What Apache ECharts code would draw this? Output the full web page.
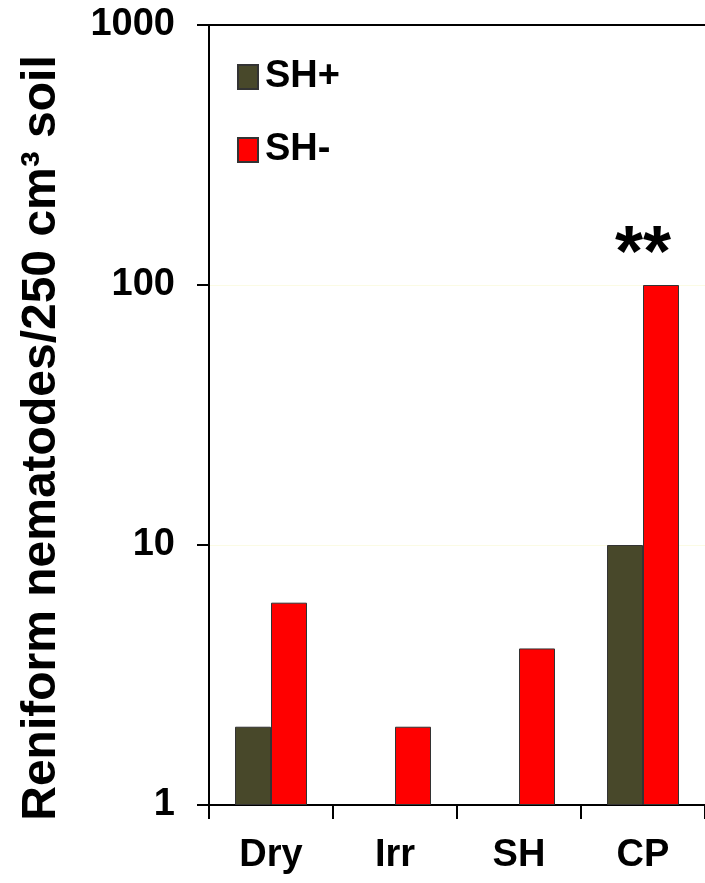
<!DOCTYPE html>
<html>
<head>
<meta charset="utf-8">
<style>
  html, body { margin: 0; padding: 0; background: #fff; }
  #chart { width: 705px; height: 883px; }
</style>
<script src="https://cdn.jsdelivr.net/npm/echarts@6/dist/echarts.min.js"></script>
</head>
<body>
<div id="chart"></div>
<script>
// Reniform nematode counts per treatment, with and without sunn hemp (SH)
const categories = ['Dry', 'Irr', 'SH', 'CP'];
const seriesNames = ['SH+', 'SH-'];
const shPlus = [2, null, null, 10];
const shMinus = [6, 2, 4, 100];
const significance = ['', '', '', '**'];
const yTicks = [1, 10, 100, 1000];

const FONT = '"Liberation Sans Narrow", "Liberation Sans", Arial, sans-serif';
const colors = ['#48482a', '#ff0000'];

const chart = echarts.init(document.getElementById('chart'), null, { renderer: 'canvas' });

chart.setOption({
  animation: false,
  backgroundColor: '#ffffff',
  grid: { left: 209, right: -4, top: 25, bottom: 78, containLabel: false },
  legend: {
    orient: 'vertical',
    left: 232,
    top: 50,
    itemWidth: 20,
    itemHeight: 24,
    itemGap: 29,
    icon: 'rect',
    data: seriesNames,
    textStyle: { fontFamily: FONT, fontWeight: 'bold', fontSize: 38, lineHeight: 44, color: '#000', padding: [0, 0, 0, 2] }
  },
  xAxis: [{
    type: 'category',
    data: categories,
    boundaryGap: true,
    axisLine: { lineStyle: { color: '#000', width: 2 } },
    axisTick: { show: true, length: 14, lineStyle: { color: '#000', width: 2 } },
    axisLabel: { fontFamily: FONT, fontWeight: 'bold', fontSize: 38, color: '#000', margin: 32 }
  }, {
    type: 'category',
    data: categories,
    position: 'top',
    axisLine: { lineStyle: { color: '#000', width: 2 } },
    axisTick: { show: false },
    axisLabel: { show: false }
  }],
  yAxis: {
    type: 'log',
    logBase: 10,
    min: yTicks[0],
    max: yTicks[yTicks.length - 1],
    name: 'Reniform nematodes/250 cm³ soil',
    nameLocation: 'middle',
    nameGap: 143,
    nameTextStyle: { fontFamily: '"Liberation Sans", Arial, sans-serif', fontWeight: 'bold', fontSize: 48, color: '#000', padding: [0, 46, 0, 0] },
    axisLine: { show: true, lineStyle: { color: '#000', width: 2 } },
    axisTick: { show: true, length: 12, lineStyle: { color: '#000', width: 2 } },
    axisLabel: {
      fontFamily: FONT, fontWeight: 'bold', fontSize: 38, color: '#000', margin: 34,
      formatter: v => String(v)
    },
    splitLine: { show: true, lineStyle: { color: '#fbfbe4', width: 1 } }
  },
  series: [{
    name: seriesNames[0],
    type: 'bar',
    data: shPlus,
    barWidth: 36,
    barGap: '0%',
    itemStyle: { color: colors[0], borderColor: '#333', borderWidth: 1 }
  }, {
    name: seriesNames[1],
    type: 'bar',
    data: shMinus,
    barWidth: 36,
    barGap: '0%',
    itemStyle: { color: colors[1], borderColor: '#333', borderWidth: 1 },
    label: {
      show: true,
      position: 'top',
      offset: [-18, 7],
      distance: 0,
      fontFamily: '"Liberation Sans", Arial, sans-serif',
      fontWeight: 'bold',
      fontSize: 72,
      color: '#000',
      formatter: p => significance[p.dataIndex]
    }
  }]
});
</script>
</body>
</html>
